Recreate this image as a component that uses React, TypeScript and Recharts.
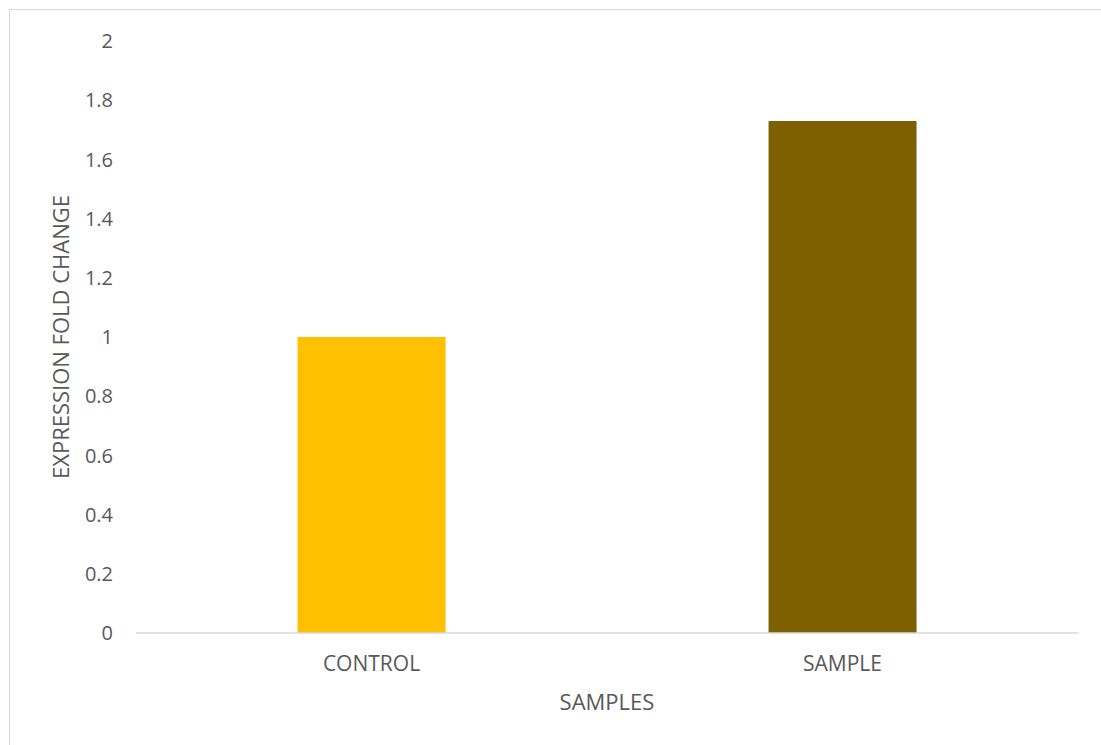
import React from 'react';
import { BarChart, Bar, XAxis, YAxis, Cell, Label } from 'recharts';

// Expression fold change per sample group
const categories = ['CONTROL', 'SAMPLE'];
const foldChange = [1, 1.73];
const barColors = ['#FFC000', '#7F6000'];
const yTicks = [0, 0.2, 0.4, 0.6, 0.8, 1, 1.2, 1.4, 1.6, 1.8, 2];

const data = categories.map((name, i) => ({ name, value: foldChange[i] }));

const FONT = '"Open Sans", sans-serif';
const TEXT = '#595959';
const AXIS = '#d9d9d9';

const YTitle = (props: any) => {
  const vb = props.viewBox || { x: 0, y: 0, width: 0, height: 0 };
  const cx = vb.x + 60;
  const cy = vb.y + vb.height / 2;
  return (
    <text
      x={cx}
      y={cy}
      transform={`rotate(-90 ${cx} ${cy})`}
      textAnchor="middle"
      dominantBaseline="central"
      fill={TEXT}
      fontFamily={FONT}
      fontSize={22}
    >
      EXPRESSION FOLD CHANGE
    </text>
  );
};

export default function App() {
  return (
    <div style={{ position: 'absolute', left: 0, top: 0, width: 1101, height: 745, overflow: 'hidden', background: '#fff' }}>
      <div
        style={{
          position: 'absolute',
          left: 9,
          top: 9,
          width: 1200,
          height: 900,
          borderLeft: `1.5px solid ${AXIS}`,
          borderTop: `1.5px solid ${AXIS}`,
        }}
      />
      <div style={{ position: 'absolute', left: 0, top: 0 }}>
        <BarChart
          width={1101}
          height={745}
          data={data}
          margin={{ top: 41, right: 23, bottom: 52, left: 0 }}
          barCategoryGap="34.3%"
        >
          <XAxis
            dataKey="name"
            height={60}
            tickLine={false}
            tickSize={0}
            tickMargin={23}
            axisLine={{ stroke: AXIS, strokeWidth: 1.5 }}
            tick={{ fill: TEXT, fontFamily: FONT, fontSize: 21 }}
          >
            <Label
              value="SAMPLES"
              position="bottom"
              offset={1}
              fill={TEXT}
              fontFamily={FONT}
              fontSize={22}
            />
          </XAxis>
          <YAxis
            width={136}
            domain={[0, 2]}
            ticks={yTicks}
            interval={0}
            tickLine={false}
            axisLine={false}
            tickSize={0}
            tickMargin={23}
            tick={{ fill: TEXT, fontFamily: FONT, fontSize: 20 }}
          >
            <Label content={<YTitle />} />
          </YAxis>
          <Bar dataKey="value" isAnimationActive={false}>
            {data.map((d, i) => (
              <Cell key={d.name} fill={barColors[i]} />
            ))}
          </Bar>
        </BarChart>
      </div>
    </div>
  );
}
